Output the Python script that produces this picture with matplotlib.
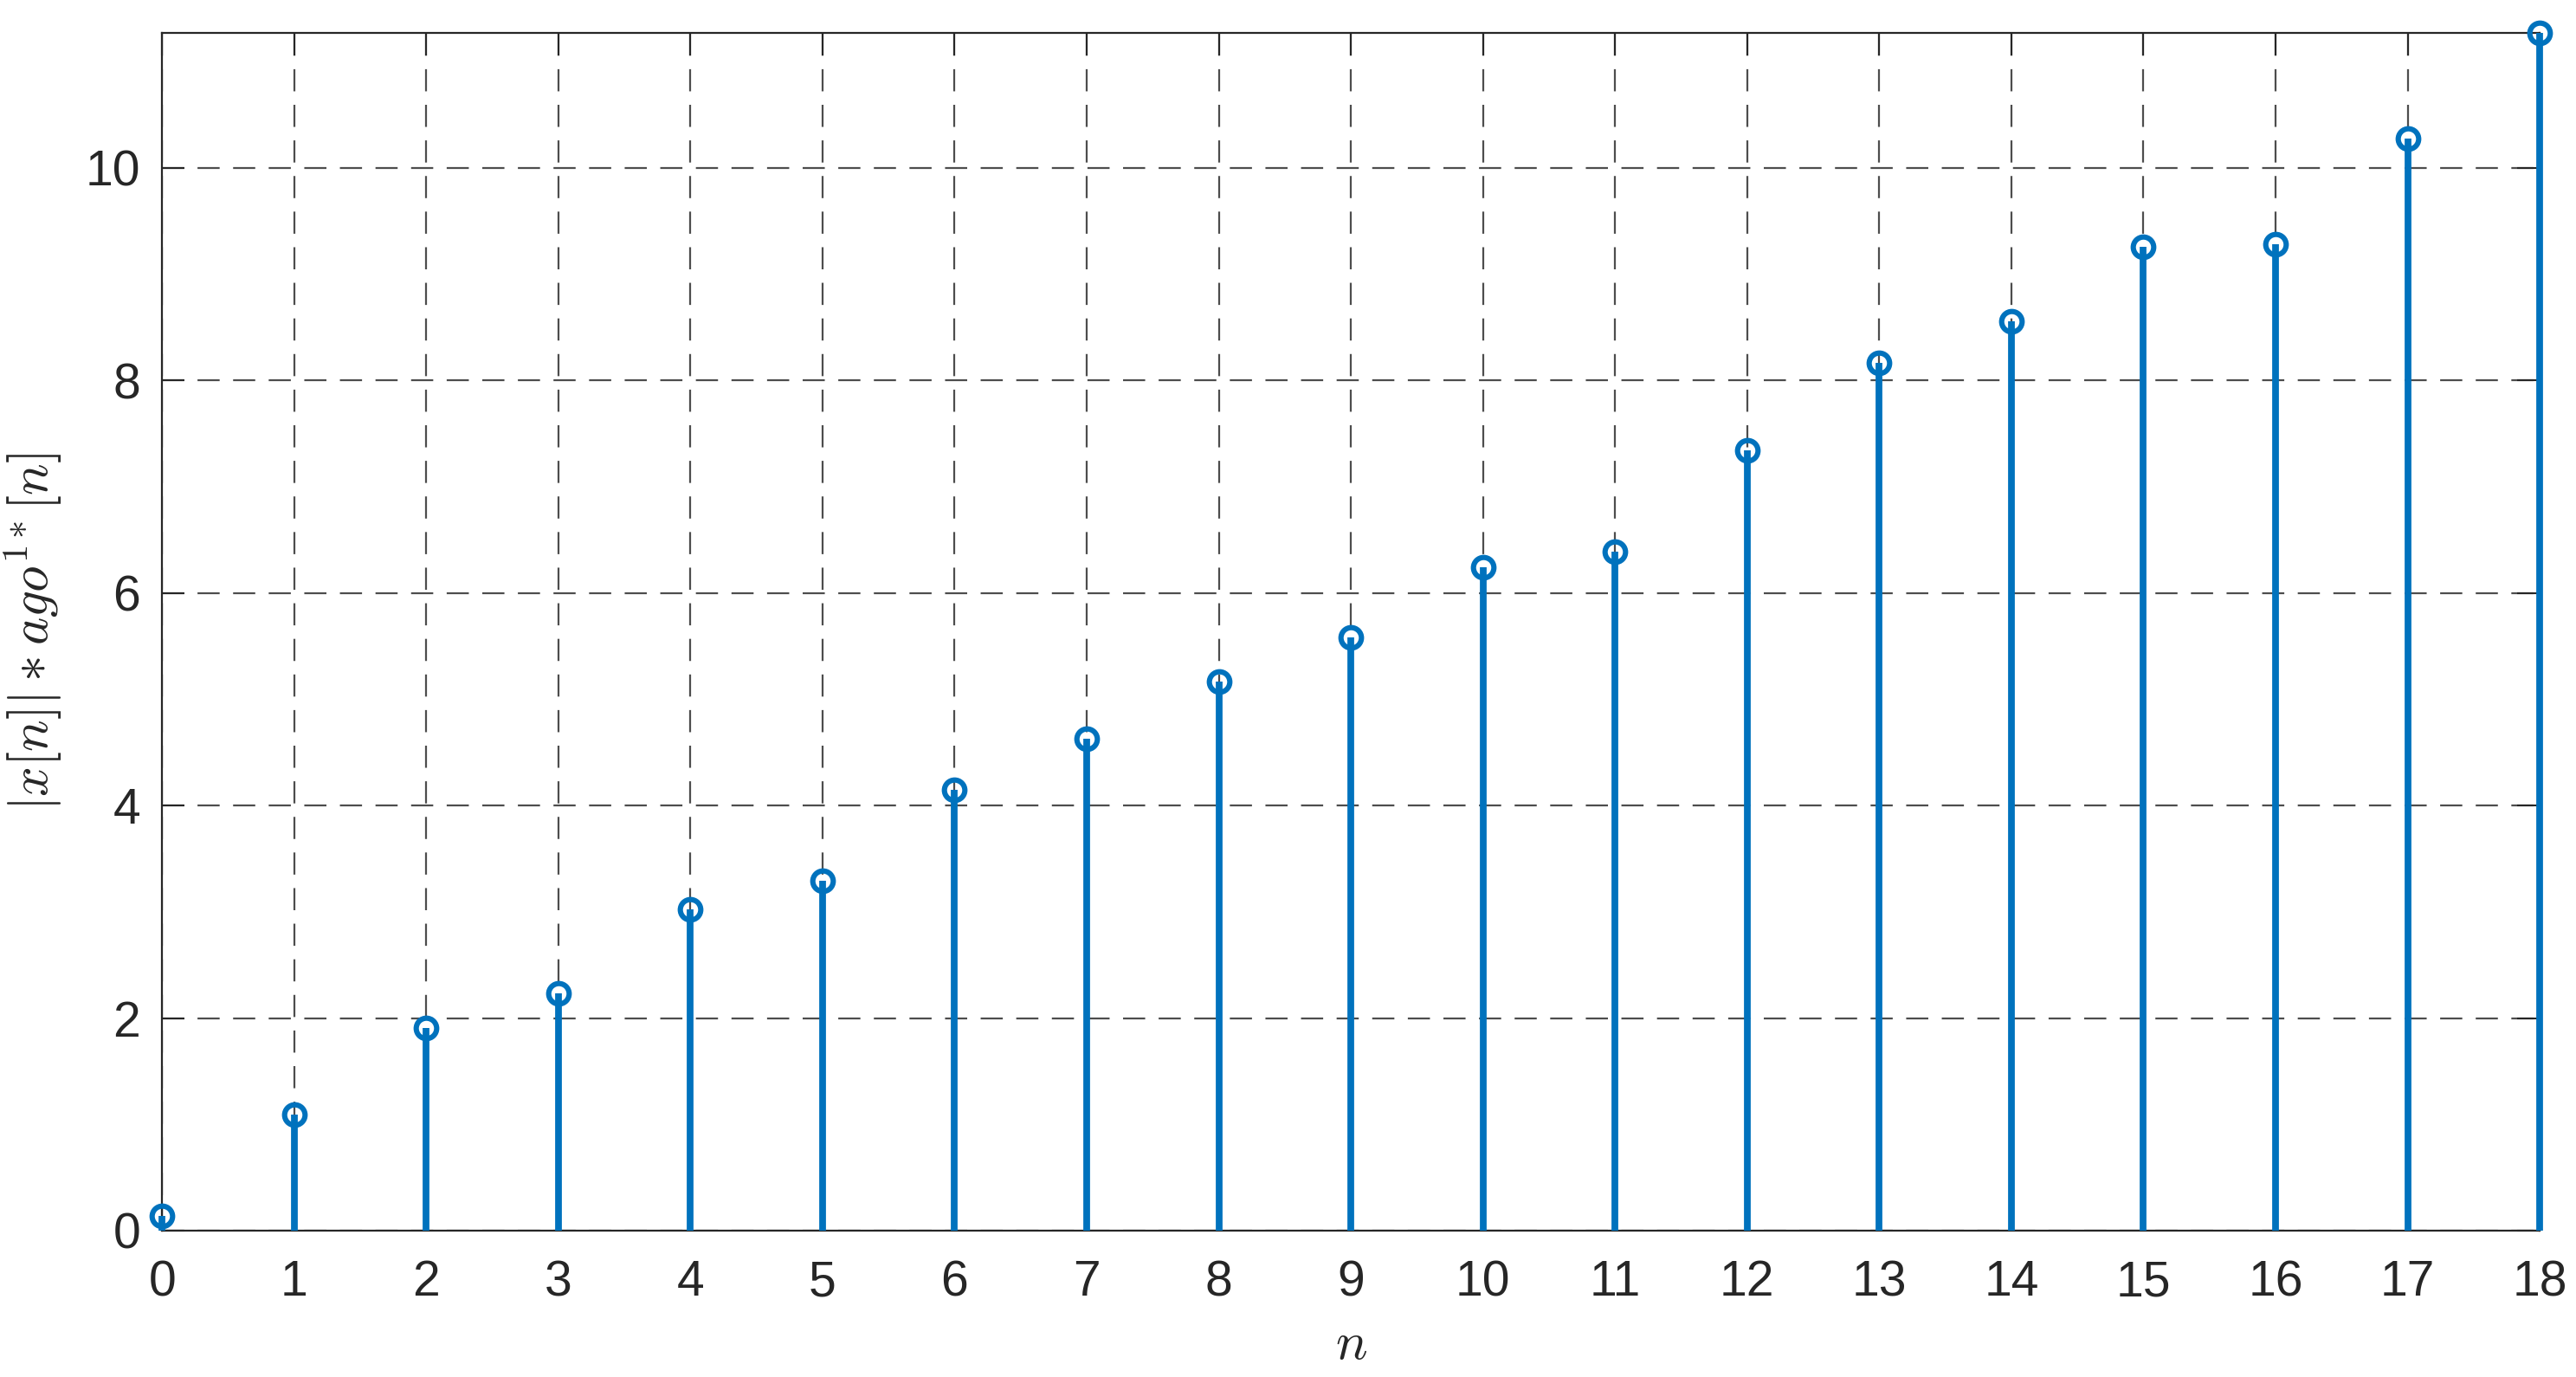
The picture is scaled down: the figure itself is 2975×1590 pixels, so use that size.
import numpy as np
import matplotlib.pyplot as plt

# داده ها
n = list(range(0, 19))
values = [0.14, 1.09, 1.91, 2.23, 3.02, 3.29, 4.15, 4.63, 5.17, 5.58,
          6.24, 6.39, 7.34, 8.17, 8.56, 9.26, 9.28, 10.28, 11.27]
y_ticks = [0, 2, 4, 6, 8, 10]

plt.rcParams['font.family'] = ['Liberation Sans', 'DejaVu Sans']
plt.rcParams['mathtext.fontset'] = 'cm'
plt.rcParams['lines.scale_dashes'] = False

fig = plt.figure(figsize=(14.875, 7.95), dpi=200)
ax = fig.add_axes([0.0629, 0.1063, 0.923, 0.8697])

blue = '#0072BD'
markerline, stemlines, baseline = ax.stem(n, values)
plt.setp(stemlines, color=blue, linewidth=2.8, clip_on=False, zorder=3)
plt.setp(markerline, color=blue, marker='o', markersize=8.5,
         markerfacecolor='none', markeredgewidth=2.2, clip_on=False, zorder=4)
baseline.set_visible(False)

ax.set_xlim(0, 18)
ax.set_ylim(0, max(values))
ax.set_xticks(n)
ax.set_yticks(y_ticks)

ax.grid(True, linestyle=(0, (9.2, 5.6)), color='#4d4d4d', linewidth=0.8)
ax.tick_params(direction='in', length=9.3, width=0.75, color='#262626',
               labelcolor='#262626', labelsize=20.5, top=True, right=True)
ax.tick_params(axis='x', pad=12)
ax.tick_params(axis='y', pad=9)
for s in ax.spines.values():
    s.set_linewidth(0.8)
    s.set_color('#262626')

ax.set_xlabel(r'$n$', fontsize=22, labelpad=6, color='#262626')
ax.set_ylabel(r'$|x[n]| * ago^{1*}[n]$', fontsize=22, labelpad=9, color='#262626')

fig.savefig('out.png', dpi=200)
